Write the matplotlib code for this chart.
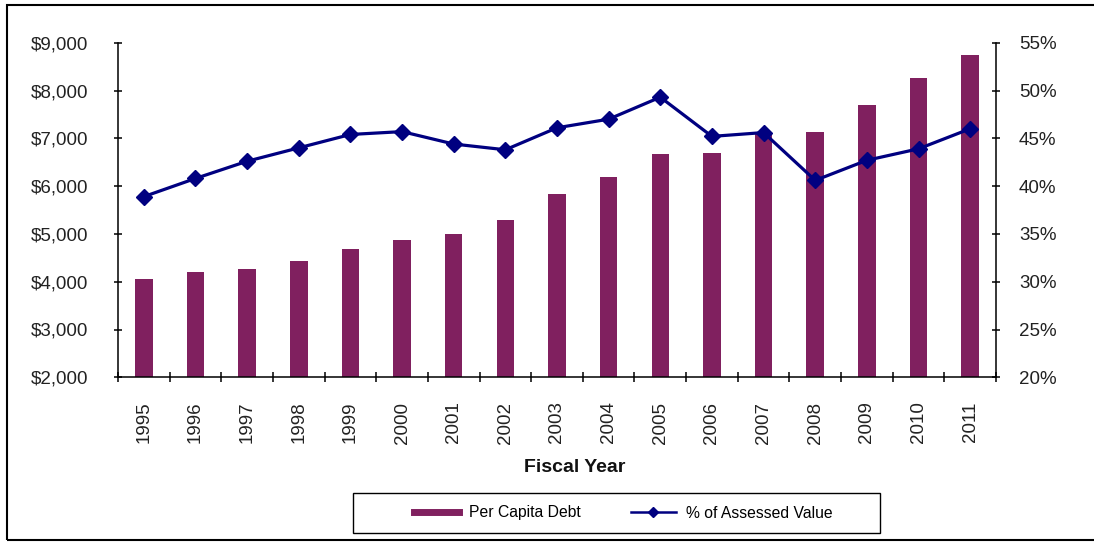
import matplotlib
matplotlib.use("Agg")
import matplotlib.pyplot as plt
from matplotlib.lines import Line2D
from matplotlib.patches import Rectangle
from matplotlib.ticker import FuncFormatter, MultipleLocator, FixedLocator, NullFormatter

plt.rcParams['font.family'] = ['Liberation Sans', 'DejaVu Sans']

years = ['1995', '1996', '1997', '1998', '1999', '2000', '2001', '2002', '2003',
         '2004', '2005', '2006', '2007', '2008', '2009', '2010', '2011']
per_capita_debt = [4050, 4210, 4260, 4430, 4690, 4880, 4990, 5285, 5840,
                   6200, 6680, 6700, 7085, 7130, 7690, 8255, 8740]
pct_assessed = [38.9, 40.8, 42.6, 44.0, 45.4, 45.7, 44.4, 43.8, 46.1,
                47.0, 49.3, 45.2, 45.6, 40.6, 42.7, 43.9, 46.0]

bar_color = '#80205F'
line_color = '#000080'

W, H = 1094, 542
fig = plt.figure(figsize=(W / 100, H / 100), dpi=100)
fig.patch.set_facecolor('white')

ax = fig.add_axes([118 / W, 1 - 377.3 / H, (996 - 118) / W, (377.3 - 42.7) / H])
ax2 = ax.twinx()

x = list(range(len(years)))
ax.bar(x, per_capita_debt, width=0.34, color=bar_color, zorder=2)
ax2.plot(x, pct_assessed, color=line_color, lw=2.3, marker='D', markersize=8,
         zorder=3)

ax.set_xlim(-0.5, len(years) - 0.5)
ax.set_ylim(2000, 9000)
ax2.set_ylim(20, 55)

ax.yaxis.set_major_locator(MultipleLocator(1000))
ax.yaxis.set_major_formatter(FuncFormatter(lambda v, p: f"${v:,.0f}"))
ax2.yaxis.set_major_locator(MultipleLocator(5))
ax2.yaxis.set_major_formatter(FuncFormatter(lambda v, p: f"{v:.0f}%"))

# category labels at the centres, tick marks at the category boundaries
ax.set_xticks(x)
ax.set_xticklabels(years, rotation=90)
ax.xaxis.set_minor_locator(FixedLocator([i - 0.5 for i in range(len(years) + 1)]))
ax.xaxis.set_minor_formatter(NullFormatter())
ax.tick_params(axis='x', which='major', length=0, pad=17.5, labelsize=13.5,
               labelcolor='#222222')
ax.tick_params(axis='x', which='minor', direction='inout', length=7, width=1.1)
ax.tick_params(axis='y', direction='inout', length=6, width=1.1, pad=18.5,
               labelsize=13.5, labelcolor='#222222')
ax2.tick_params(axis='y', direction='inout', length=6, width=1.1, pad=13.5,
                labelsize=13.5, labelcolor='#222222')

for a in (ax, ax2):
    a.spines['top'].set_visible(False)
    a.set_facecolor('none')
ax2.spines['left'].set_visible(False)
ax2.spines['bottom'].set_visible(False)
ax.spines['right'].set_visible(False)
for s in ('left', 'bottom'):
    ax.spines[s].set_linewidth(1.1)
ax2.spines['right'].set_linewidth(1.1)

fig.text(575 / W, 1 - 467 / H, 'Fiscal Year', ha='center', va='center',
         fontsize=14, fontweight='bold', color='#111111')

# legend box and its entries
fig.patches.append(Rectangle((353 / W, 1 - 533 / H), (880 - 353) / W, 40 / H,
                             transform=fig.transFigure, fill=False,
                             edgecolor='black', lw=1.0))
handles = [Line2D([], [], color=bar_color, lw=5),
           Line2D([], [], color=line_color, lw=1.8, marker='D', markersize=5)]
fig.legend(handles, ['Per Capita Debt', '% of Assessed Value'],
           loc='center', bbox_to_anchor=(623 / W, 1 - 513 / H),
           ncol=2, fontsize=11.3, handlelength=2.9, handletextpad=0.6,
           columnspacing=3.2, frameon=False, borderpad=0)

# outer chart frame
fig.patches.append(Rectangle((7 / W, 1 - 540 / H), (W + 10 - 7) / W, (540 - 5) / H,
                             transform=fig.transFigure, fill=False,
                             edgecolor='black', lw=1.5))

fig.savefig('out.png', dpi=100)
